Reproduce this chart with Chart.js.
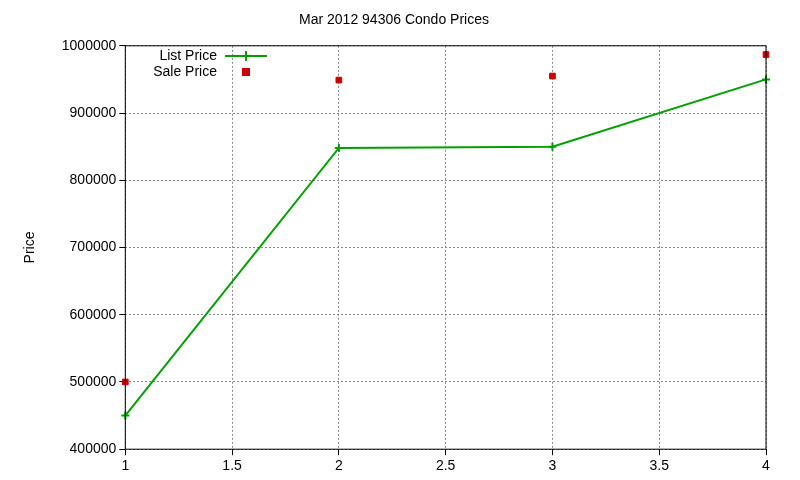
<!DOCTYPE html>
<html><head><script src="https://cdn.jsdelivr.net/npm/chart.js@4/dist/chart.umd.min.js"></script>
<style>body{margin:0;background:#fff}#w{width:800px;height:480px}</style></head>
<body><div id="w"><canvas id="c"></canvas></div>
<script>
const xs=[1,2,3,4];
const listPrice=[450000,848000,850000,950000];
const salePrice=[500000,949000,955000,987000];
const yTicks=[400000,500000,600000,700000,800000,900000,1000000];
const xTicks=[1,1.5,2,2.5,3,3.5,4];
const legendPlugin={id:'lg',afterDraw(ch){const c=ch.ctx;c.save();c.font='14px "Liberation Sans", Arial';c.fillStyle='#000';c.textAlign='right';c.textBaseline='middle';
c.fillText('List Price',217,56);c.fillText('Sale Price',217,72);
c.strokeStyle='#00a000';c.lineWidth=2;c.beginPath();c.moveTo(225,56);c.lineTo(267,56);c.moveTo(246,51);c.lineTo(246,61);c.stroke();
c.fillStyle='#cc0000';c.fillRect(242,68,8,8);
const a=ch.chartArea;c.strokeStyle='#000';c.lineWidth=1;c.strokeRect(a.left,a.top,a.right-a.left,a.bottom-a.top);c.restore();}};
new Chart(document.getElementById('c'),{type:'scatter',
data:{datasets:[
{label:'List Price',data:xs.map((x,i)=>({x,y:listPrice[i]})),showLine:true,clip:false,borderColor:'#00a000',backgroundColor:'#00a000',borderWidth:2,pointStyle:'cross',pointRadius:4,pointBorderWidth:2},
{label:'Sale Price',data:xs.map((x,i)=>({x,y:salePrice[i]})),showLine:false,clip:false,borderColor:'#cc0000',backgroundColor:'#cc0000',pointStyle:'rect',pointRadius:4}
]},
options:{responsive:true,maintainAspectRatio:false,animation:false,
layout:{padding:{left:22,right:34,top:0,bottom:2}},
plugins:{legend:{display:false},tooltip:{enabled:false},
title:{display:true,text:'Mar 2012 94306 Condo Prices',color:'#000',font:{family:'"Liberation Sans", Arial',size:14,weight:'normal'},padding:{top:12,bottom:17}}},
scales:{
x:{type:'linear',min:1,max:4,afterBuildTicks:s=>{s.ticks=xTicks.map(v=>({value:v}))},
ticks:{color:'#000',font:{family:'"Liberation Sans", Arial',size:14},maxRotation:0,callback:v=>String(v)},
grid:{color:'#888',tickColor:'#000',tickLength:6},border:{display:false,dash:[2,2]}},
y:{min:400000,max:1000000,afterBuildTicks:s=>{s.ticks=yTicks.map(v=>({value:v}))},
ticks:{color:'#000',font:{family:'"Liberation Sans", Arial',size:14},callback:v=>String(v)},
title:{display:true,text:'Price',color:'#000',font:{family:'"Liberation Sans", Arial',size:14},padding:{top:0,bottom:20}},
grid:{color:'#888',tickColor:'#000',tickLength:6},border:{display:false,dash:[2,2]}}
}},plugins:[legendPlugin]});
</script></body></html>
